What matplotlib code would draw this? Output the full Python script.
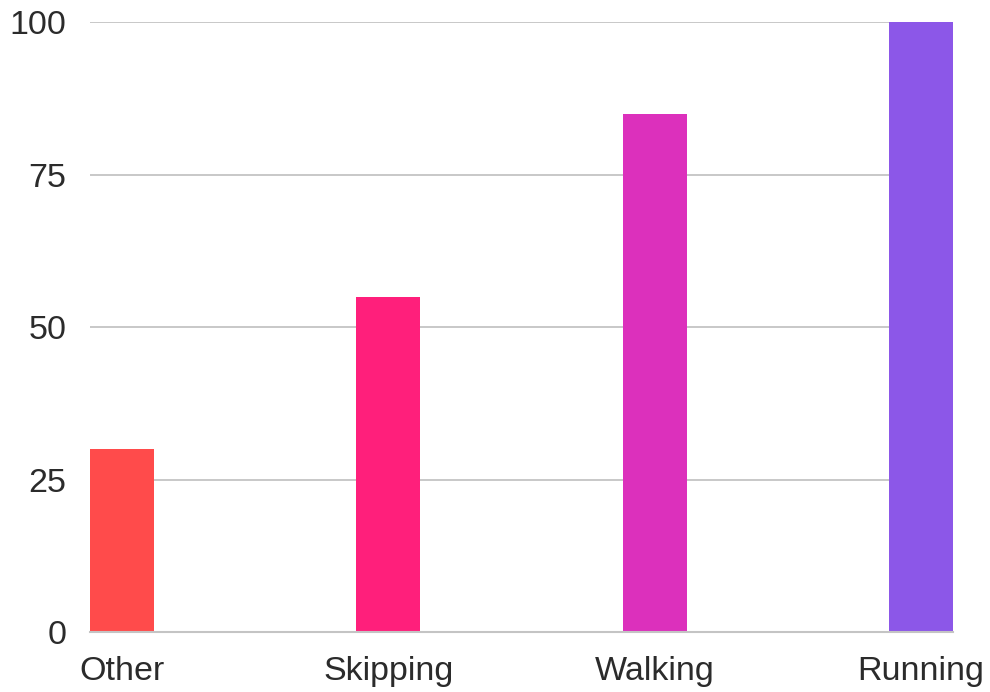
import matplotlib
matplotlib.use("Agg")
import matplotlib.pyplot as plt

# data
categories = ["Other", "Skipping", "Walking", "Running"]
values = [30, 55, 85, 100]
colors = ["#FF4B4B", "#FF1F7B", "#DC30BC", "#8C57E8"]
yticks = [0, 25, 50, 75, 100]

plt.rcParams['font.family'] = ['Liberation Sans', 'DejaVu Sans']

fig = plt.figure(figsize=(9.9, 6.92), dpi=100)
ax = fig.add_axes([0.0909, 0.0867, 0.8717, 0.8815])

x = range(len(categories))
ax.bar(x, values, width=0.24, color=colors, zorder=3)

ax.set_xlim(-0.12, len(categories) - 1 + 0.12)
ax.set_ylim(0, 100)
ax.set_yticks(yticks)
ax.set_xticks(list(x))
ax.set_xticklabels(categories)

ax.grid(axis='y', color='#c4c4c4', linewidth=1.3, zorder=0)
ax.set_axisbelow(True)
for s in ['top', 'right', 'left']:
    ax.spines[s].set_visible(False)
ax.spines['bottom'].set_color('#c4c4c4')
ax.spines['bottom'].set_linewidth(1.5)
ax.spines['bottom'].set_zorder(4)

ax.tick_params(axis='both', length=0, labelsize=24.5, labelcolor='#2b2b2b')
ax.tick_params(axis='y', pad=17)
ax.tick_params(axis='x', pad=17)

fig.savefig("out.png", dpi=100)
